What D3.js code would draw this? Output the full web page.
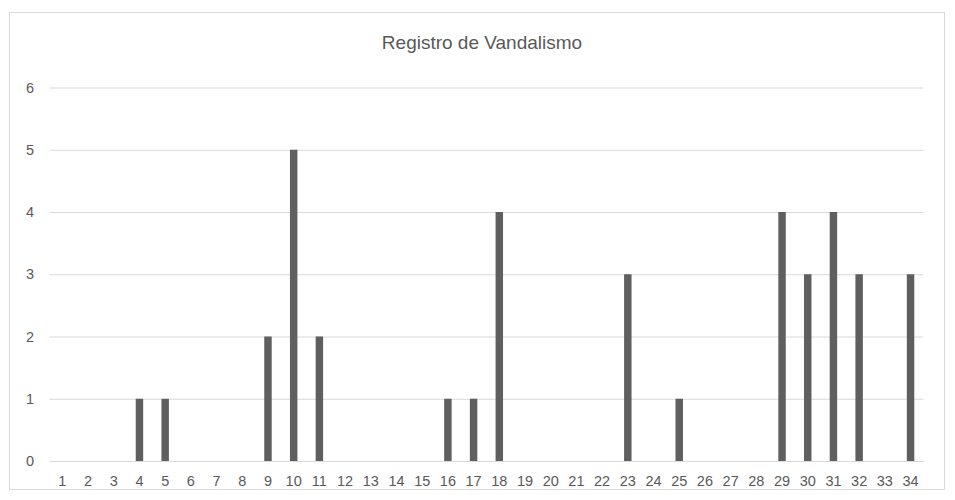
<!DOCTYPE html>
<html>
<head>
<meta charset="utf-8">
<script src="https://cdn.jsdelivr.net/npm/d3@7"></script>
<style>
  html, body { margin: 0; padding: 0; background: #fff; }
  svg { display: block; font-family: "Liberation Sans", Arial, sans-serif; }
</style>
</head>
<body>
<svg id="chart" width="955" height="500"></svg>
<script>
const title = "Registro de Vandalismo";
const categories = ["1","2","3","4","5","6","7","8","9","10","11","12","13","14","15","16","17","18","19","20","21","22","23","24","25","26","27","28","29","30","31","32","33","34"];
const values = [0,0,0,1,1,0,0,0,2,5,2,0,0,0,0,1,1,4,0,0,0,0,3,0,1,0,0,0,4,3,4,3,0,3];
const yTicks = [0,1,2,3,4,5,6];

const FONT = '"Liberation Sans", Arial, sans-serif';
const svg = d3.select("#chart");
const W = 955, H = 500;
const margin = { left: 49.5, right: W - 923.4, top: 87.5, bottom: H - 461 };

// chart border
svg.append("rect")
  .attr("x", 9.5).attr("y", 12.5)
  .attr("width", 935).attr("height", 477)
  .attr("fill", "#fff").attr("stroke", "#d9d9d9").attr("stroke-width", 1);

const x = d3.scaleBand()
  .domain(categories)
  .range([margin.left, W - margin.right])
  .paddingInner(0.71).paddingOuter(0.355);

const y = d3.scaleLinear()
  .domain([0, 6])
  .range([H - margin.bottom, margin.top]);

// gridlines
const yAxis = d3.axisLeft(y).tickValues(yTicks).tickFormat(d3.format("d"))
  .tickSize(-(W - margin.left - margin.right)).tickPadding(15.5);
const gy = svg.append("g").attr("transform", `translate(${margin.left},0)`).call(yAxis)
  .attr("font-family", FONT).attr("font-size", 14.5);
gy.select(".domain").remove();
gy.selectAll(".tick line").attr("stroke", "#d9d9d9").attr("stroke-width", 1);
gy.selectAll(".tick text").attr("fill", "#595959");

// bars
svg.append("g").selectAll("rect")
  .data(values.map((v, i) => ({ c: categories[i], v })))
  .join("rect")
  .attr("x", d => x(d.c))
  .attr("width", x.bandwidth())
  .attr("y", d => y(d.v))
  .attr("height", d => y(0) - y(d.v))
  .attr("fill", "#5f5f5f");

// x axis
const xAxis = d3.axisBottom(x).tickSize(0).tickPadding(14.5);
const gx = svg.append("g").attr("transform", `translate(0,${y(0)})`).call(xAxis)
  .attr("font-family", FONT).attr("font-size", 14.5);
gx.select(".domain").attr("stroke", "#d9d9d9");
gx.selectAll(".tick text").attr("fill", "#595959");

// title
svg.append("text")
  .attr("x", 482).attr("y", 49)
  .attr("text-anchor", "middle")
  .attr("fill", "#595959")
  .attr("font-family", FONT)
  .attr("font-size", 19)
  .text(title);
</script>
</body>
</html>
